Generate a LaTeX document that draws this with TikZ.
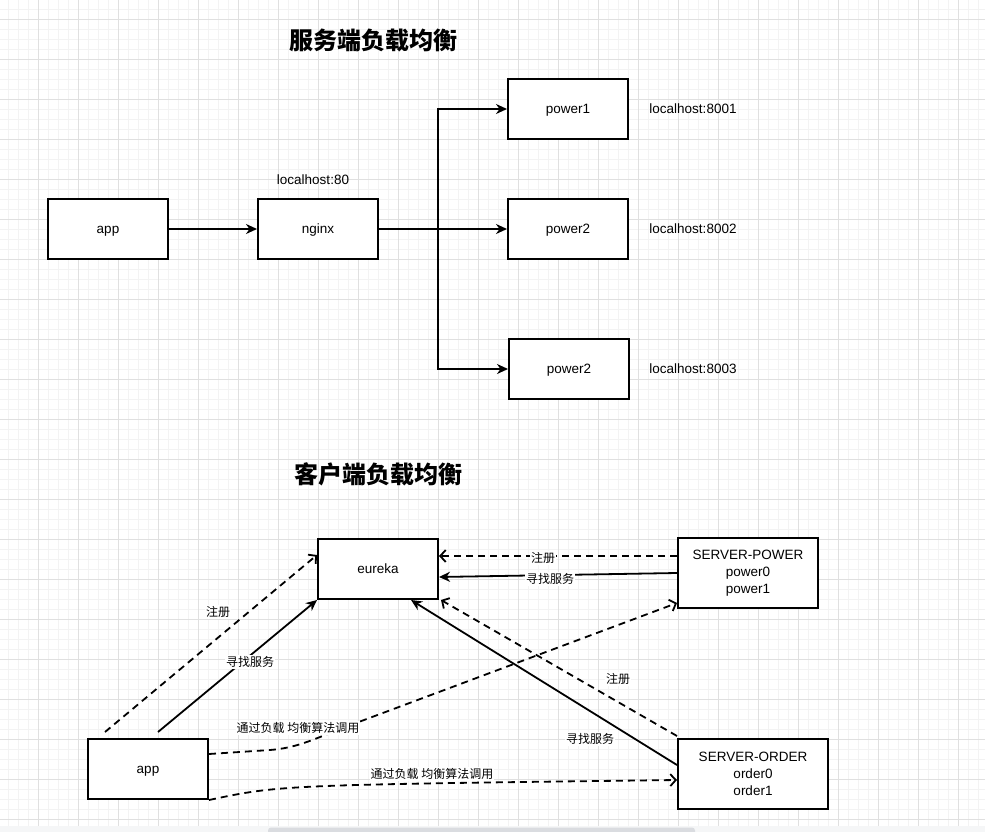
\documentclass[tikz,border=0pt]{standalone}
\usepackage{fontspec}
\setmainfont{Liberation Sans}
\newfontfamily\cjk{Noto Sans CJK SC}
\usepackage{tikz}
\usetikzlibrary{arrows.meta}
\definecolor{gridmajor}{HTML}{E0E0E0}
\definecolor{gridminor}{HTML}{F3F3F3}
\definecolor{barback}{HTML}{F5F6F7}
\definecolor{barthumb}{HTML}{DADCE0}

\begin{document}
\begin{tikzpicture}[x=1pt,y=-1pt,every node/.style={inner sep=0pt},
  box/.style={draw,line width=2pt,fill=white,minimum width=120pt,minimum height=60pt,align=center,font=\fontsize{13.5}{17}\selectfont},
  onebox/.style={box,text height=11.5pt,text depth=2.5pt},
  txt/.style={align=center,font=\fontsize{13.5}{17}\selectfont},
  title/.style={font=\cjk\bfseries\fontsize{24}{28}\selectfont},
  lbl/.style={inner sep=1pt,fill=white,font=\cjk\fontsize{12}{14}\selectfont},
  solidarr/.style={line width=1.8pt,-{Stealth[length=11pt,width=10pt,inset=3.5pt]}},
  openarr/.style={line width=1.8pt,dash pattern=on 7pt off 5pt,-{Straight Barb[length=5.5pt,width=12pt]}}]
\useasboundingbox (0,0) rectangle (985,832);
% grid
\foreach \x in {8.5,18.5,...,988.5} \draw[gridminor,line width=1pt] (\x,0) -- (\x,826);
\foreach \y in {9.3,19.3,...,829.3} \draw[gridminor,line width=1pt] (0,\y) -- (985,\y);
\foreach \x in {38.5,78.5,...,998.5} \draw[gridmajor,line width=1pt] (\x,0) -- (\x,826);
\foreach \y in {19.3,59.3,...,829.3} \draw[gridmajor,line width=1pt] (0,\y) -- (985,\y);
\fill[barback] (0,826) rectangle (985,832);
\fill[barthumb,rounded corners=3pt] (268,827.5) rectangle (695,836);

% server side
\node[title](title1) at (373,40){服务端负载均衡};
\node[onebox](app1) at (108,229){app};
\node[onebox](nginx) at (318,229){nginx};
\node[txt](host80) at (313,180){localhost:80};
\node[onebox](power1) at (568,109){power1};
\node[onebox](power2) at (568,229){power2};
\node[onebox](power3) at (569,369){power2};
\node[txt](host8001) at (693,109){localhost:8001};
\node[txt](host8002) at (693,229){localhost:8002};
\node[txt](host8003) at (693,369){localhost:8003};
\coordinate(split) at (438,229);
\draw[solidarr](app1) -- (nginx);
\draw[solidarr](nginx) -- (power2);
\draw[solidarr](split) |- (power1.west);
\draw[solidarr](split) |- (power3.west);

% client side
\node[title](title2) at (378,474){客户端负载均衡};
\node[onebox](eureka) at (378,569){eureka};
\node[onebox](app2) at (148,769){app};
\node[box,minimum width=140pt,minimum height=70pt](spower) at (748,573){SERVER-POWER\\power0\\power1};
\node[box,minimum width=150pt,minimum height=70pt](sorder) at (753,774){SERVER-ORDER\\order0\\order1};
\draw[openarr]([xshift=-43pt,yshift=6pt]app2.north) -- ([yshift=14pt]eureka.west);
\draw[solidarr]([xshift=10pt,yshift=6pt]app2.north) -- (eureka.south west);
\draw[openarr]([yshift=15pt]app2.east) -- (270,750) .. controls (295,748) and (310,741) .. (340,729) -- ([yshift=-30pt]spower.west);
\draw[openarr](app2.south east) .. controls (280,785) .. ([yshift=-6pt]sorder.west);
\draw[openarr]([yshift=17pt]spower.west) -- ([yshift=13pt]eureka.east);
\draw[solidarr](spower.west) -- ([yshift=-8pt]eureka.east);
\draw[openarr]([yshift=2pt]sorder.north west) -- ([xshift=2pt]eureka.south east);
\draw[solidarr]([yshift=9pt]sorder.west) -- ([xshift=33pt]eureka.south);
\node[lbl](reg1) at (218,612){注册};
\node[lbl](find1) at (250,662){寻找服务};
\node[lbl](call1) at (298,728){通过负载 均衡算法调用};
\node[lbl](call2) at (432,774){通过负载 均衡算法调用};
\node[lbl](reg2) at (543,558){注册};
\node[lbl](find2) at (550,579){寻找服务};
\node[lbl](reg3) at (618,679){注册};
\node[lbl](find3) at (590,739){寻找服务};
\end{tikzpicture}
\end{document}
